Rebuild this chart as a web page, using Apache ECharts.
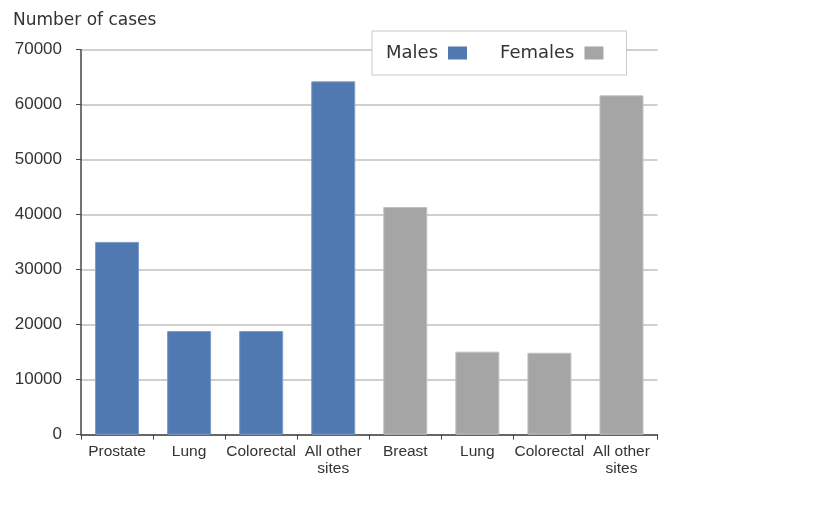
<!DOCTYPE html>
<html><head><meta charset="utf-8">
<script src="https://cdn.jsdelivr.net/npm/echarts@6/dist/echarts.min.js"></script>
<style>html,body{margin:0;padding:0;background:#fff}#c{width:830px;height:513px}</style>
</head><body><div id="c"></div>
<script>
const categories = ['Prostate', 'Lung', 'Colorectal', 'All other\nsites', 'Breast', 'Lung', 'Colorectal', 'All other\nsites'];
const males = [35050, 18850, 18850, 64250, null, null, null, null];
const females = [null, null, null, null, 41400, 15100, 14900, 61700];
const yTicks = [0, 10000, 20000, 30000, 40000, 50000, 60000, 70000];

const chart = echarts.init(document.getElementById('c'), null, {renderer: 'canvas'});
chart.setOption({
  backgroundColor: '#fff',
  animation: false,
  title: {
    text: 'Number of cases', left: 8, top: 7,
    textStyle: {fontFamily: 'DejaVu Sans', fontSize: 17, fontWeight: 'normal', color: '#333'}
  },
  legend: {
    data: ['Males', 'Females'],
    left: 372, top: 31,
    align: 'right',
    itemWidth: 19, itemHeight: 13, itemGap: 33,
    padding: [13, 23, 13, 14],
    borderColor: '#c8c8c8', borderWidth: 1, backgroundColor: '#fff',
    icon: 'rect',
    itemStyle: {borderWidth: 0},
    textStyle: {fontFamily: 'DejaVu Sans', fontSize: 18, color: '#333', padding: [0, 5, 0, 0]}
  },
  grid: {left: 81, right: 172.5, top: 49.7, bottom: 78.3, containLabel: false},
  xAxis: {
    type: 'category', data: categories,
    axisLine: {lineStyle: {color: '#444', width: 1.5}},
    axisTick: {show: true, alignWithLabel: false, length: 5, lineStyle: {color: '#444'}},
    axisLabel: {interval: 0, margin: 9, fontFamily: 'Liberation Sans', fontSize: 15.5, color: '#333', lineHeight: 17}
  },
  yAxis: {
    type: 'value', min: yTicks[0], max: yTicks[yTicks.length - 1], interval: 10000,
    axisLine: {show: true, lineStyle: {color: '#444', width: 1.5}},
    axisTick: {show: true, length: 5, lineStyle: {color: '#444'}},
    axisLabel: {margin: 19, fontFamily: 'Liberation Sans', fontSize: 17, color: '#333', formatter: v => String(v)},
    splitLine: {lineStyle: {color: '#cfcfcf', width: 2}}
  },
  series: [
    {name: 'Males', type: 'bar', data: males, barWidth: 44, barGap: '-100%',
     itemStyle: {color: '#5079b1', borderColor: '#7e9cc8', borderWidth: 1}},
    {name: 'Females', type: 'bar', data: females, barWidth: 44, barGap: '-100%',
     itemStyle: {color: '#a5a5a5', borderColor: '#c0c0c0', borderWidth: 1}}
  ]
});
</script></body></html>
